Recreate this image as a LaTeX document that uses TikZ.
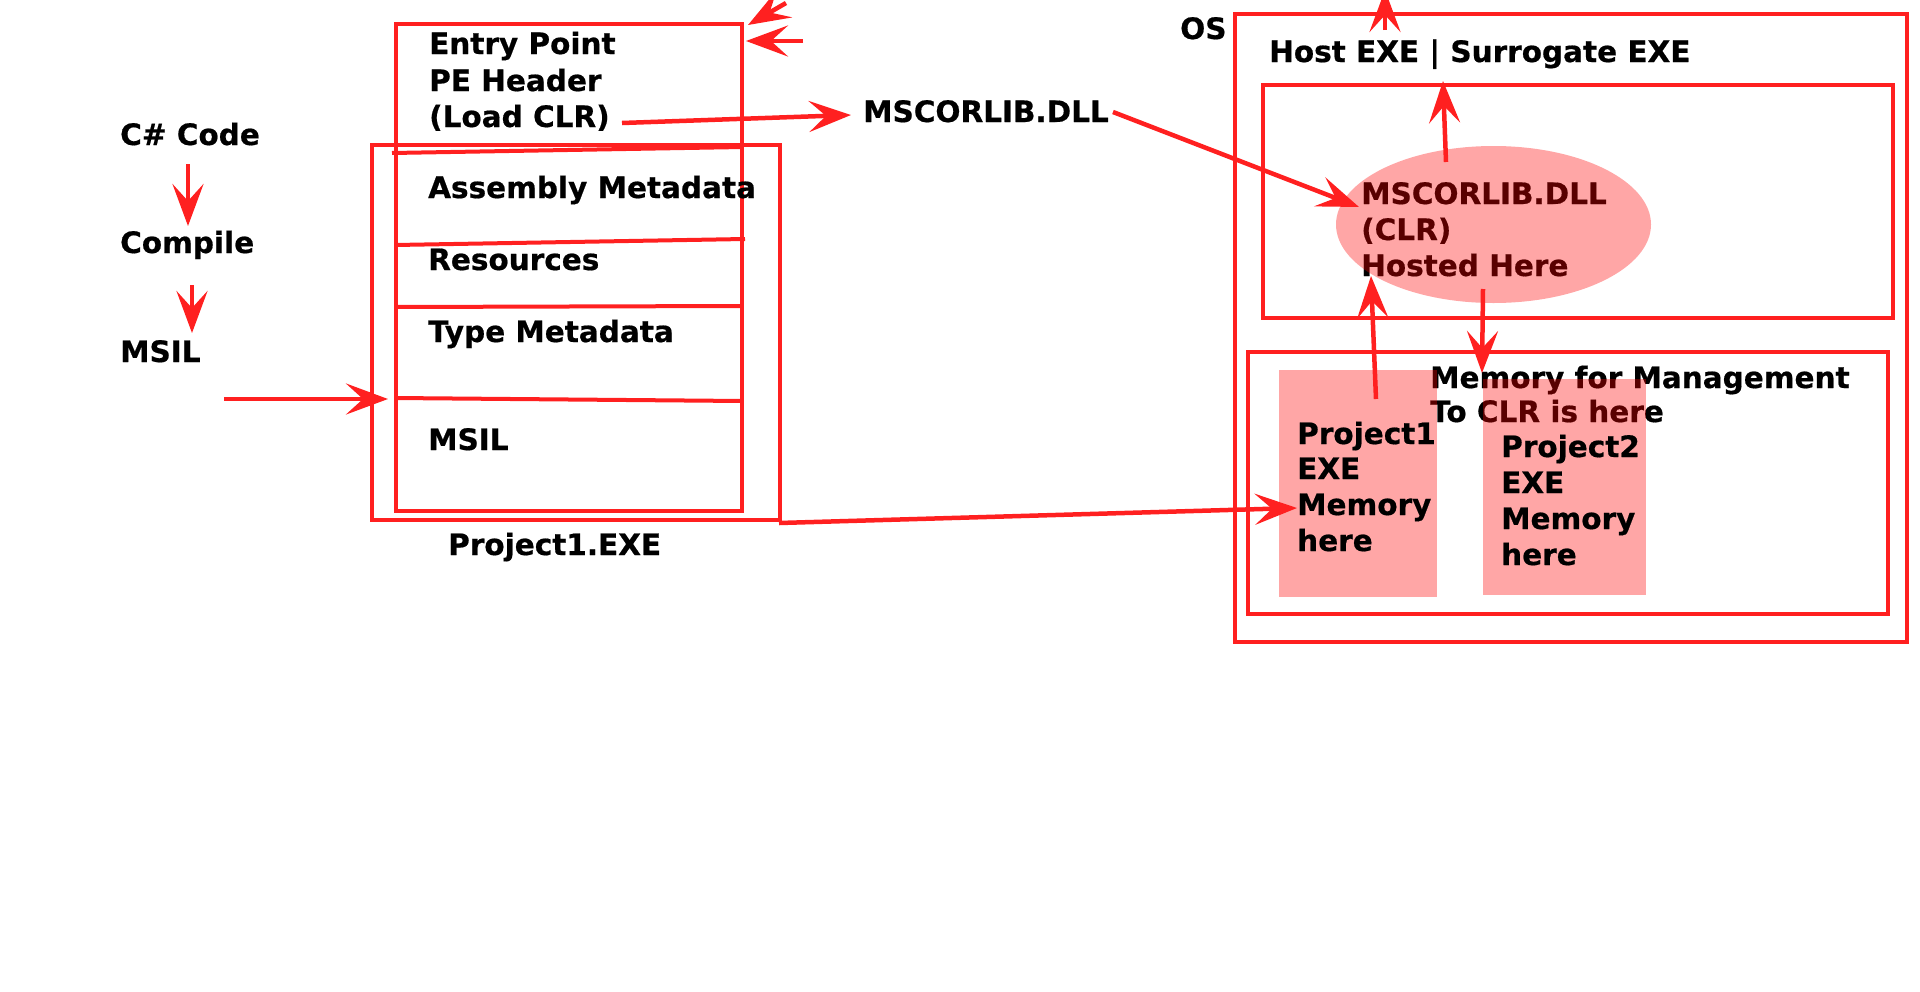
\documentclass[tikz,border=0pt]{standalone}
\usepackage{fontspec}
\setmainfont{DejaVu Sans}[BoldFeatures={FakeBold=0.6}]
\usetikzlibrary{arrows.meta,shapes.geometric}
\definecolor{lred}{RGB}{255,32,32}
\definecolor{pinkbase}{RGB}{255,0,0}
\begin{document}
\begin{tikzpicture}[x=1pt,y=-1pt,
  box/.style={draw=lred,line width=4pt,inner sep=0pt,anchor=north west,rectangle},
  txt/.style={anchor=base west,inner sep=0pt,font=\bfseries\fontsize{29.5}{36}\selectfont},
  shade/.style={fill=pinkbase,fill opacity=0.35,draw=none,inner sep=0pt},
  arr/.style={draw=lred,line width=4.5pt,-{Stealth[length=42pt,width=31pt,inset=17pt]}},
  divider/.style={draw=lred,line width=4pt}
]
\useasboundingbox (0,0) rectangle (1920,991);

% ---------- boxes ----------
\node[box,minimum width=346pt,minimum height=487pt] (entry) at (394,22) {};
\node[box,minimum width=408pt,minimum height=375pt] (exe) at (370,143) {};
\node[box,minimum width=672pt,minimum height=628pt] (os) at (1233,12) {};
\node[box,minimum width=630pt,minimum height=233pt] (host) at (1261,83) {};
\node[box,minimum width=640pt,minimum height=262pt] (mem) at (1246,350) {};

% dividers
\coordinate (d1a) at (392,153); \coordinate (d1b) at (743,147);
\coordinate (d2a) at (395,245); \coordinate (d2b) at (745,239);
\coordinate (d3a) at (395,307); \coordinate (d3b) at (740,306);
\coordinate (d4a) at (395,398); \coordinate (d4b) at (743,401);
\draw[divider] (d1a) -- (d1b);
\draw[divider] (d2a) -- (d2b);
\draw[divider] (d3a) -- (d3b);
\draw[divider] (d4a) -- (d4b);

% ---------- texts ----------
\node[txt] (csharp) at (120,145) {C\# Code};
\node[txt] (compile) at (120,253) {Compile};
\node[txt] (msil) at (120,362) {MSIL};

\node[txt] (ep1) at (429,54) {Entry Point};
\node[txt] (ep2) at (429,91) {PE Header};
\node[txt] (ep3) at (429,127) {(Load CLR)};
\node[txt] (asm) at (428,198) {Assembly Metadata};
\node[txt] (res) at (428,270) {Resources};
\node[txt] (typ) at (428,342) {Type Metadata};
\node[txt] (msil2) at (428,450) {MSIL};
\node[txt] (p1exe) at (448,555) {Project1.EXE};

\node[txt] (mscor) at (863,122) {MSCORLIB.DLL};

\node[txt] (oslbl) at (1180,39) {OS};
\node[txt] (hostlbl) at (1269,62) {Host EXE | Surrogate EXE};

\node[txt] (cl1) at (1361,204) {MSCORLIB.DLL};
\node[txt] (cl2) at (1361,240) {(CLR)};
\node[txt] (cl3) at (1361,276) {Hosted Here};

\node[txt] (mm1) at (1430,388) {Memory for Management};
\node[txt] (mm2) at (1430,422) {To CLR is here};

% ---------- translucent shapes ----------
\node[shade,ellipse,minimum width=315pt,minimum height=157pt] (clr) at (1493.5,224.5) {};
\node[shade,rectangle,anchor=north west,minimum width=158pt,minimum height=227pt] (p1) at (1279,370) {};
\node[shade,rectangle,anchor=north west,minimum width=163pt,minimum height=216pt] (p2) at (1483,379) {};

% texts over the pink rectangles
\node[txt] (pa1) at (1297,444) {Project1};
\node[txt] (pa2) at (1297,479) {EXE};
\node[txt] (pa3) at (1297,515) {Memory};
\node[txt] (pa4) at (1297,551) {here};

\node[txt] (pb1) at (1501,457) {Project2};
\node[txt] (pb2) at (1501,493) {EXE};
\node[txt] (pb3) at (1501,529) {Memory};
\node[txt] (pb4) at (1501,565) {here};

% ---------- arrows ----------
\coordinate (a1s) at (188,164); \coordinate (a1e) at (188,226);
\coordinate (a2s) at (192,285); \coordinate (a2e) at (192,333);
\coordinate (a3s) at (224,399); \coordinate (a3e) at (388,399);
\coordinate (a4s) at (622,123); \coordinate (a4e) at (851,115);
\coordinate (a5s) at (1113,112); \coordinate (a5e) at (1359,207);
\coordinate (a6s) at (779,523); \coordinate (a6e) at (1297,508);
\coordinate (a7s) at (1376,399); \coordinate (a7e) at (1371,276);
\coordinate (a8s) at (1446,162); \coordinate (a8e) at (1443,81);
\coordinate (a9s) at (1483,289); \coordinate (a9e) at (1482,373);
\coordinate (a10s) at (1385,30); \coordinate (a10e) at (1385,-10);
\coordinate (a11s) at (786,3); \coordinate (a11e) at (748,25);
\coordinate (a12s) at (803,41); \coordinate (a12e) at (746,41);

\draw[arr] (a1s) -- (a1e);
\draw[arr] (a2s) -- (a2e);
\draw[arr] (a3s) -- (a3e);
\draw[arr] (a4s) -- (a4e);
\draw[arr] (a5s) -- (a5e);
\draw[arr] (a6s) -- (a6e);
\draw[arr] (a7s) -- (a7e);
\draw[arr] (a8s) -- (a8e);
\draw[arr] (a9s) -- (a9e);
\draw[arr] (a10s) -- (a10e);
\draw[arr] (a11s) -- (a11e);
\draw[arr] (a12s) -- (a12e);
\end{tikzpicture}
\end{document}
